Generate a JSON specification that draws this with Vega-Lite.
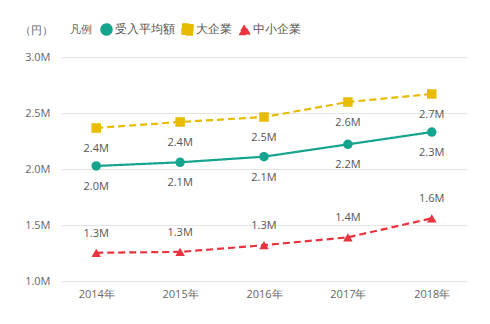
{
  "$schema": "https://vega.github.io/schema/vega-lite/v6.json",
  "width": 406,
  "height": 224,
  "autosize": {"type": "none"},
  "padding": {"left": 61, "top": 57, "right": 23, "bottom": 43},
  "background": "white",
  "config": {
    "view": {"stroke": null},
    "font": "Open Sans",
    "axis": {"labelColor": "#666666", "labelFontSize": 11, "titleColor": "#666666"}
  },
  "data": {
    "values": [
      {"year": "2014年", "series": "受入平均額", "value": 2027000},
      {"year": "2015年", "series": "受入平均額", "value": 2060000},
      {"year": "2016年", "series": "受入平均額", "value": 2110000},
      {"year": "2017年", "series": "受入平均額", "value": 2220000},
      {"year": "2018年", "series": "受入平均額", "value": 2330000},
      {"year": "2014年", "series": "大企業", "value": 2366000},
      {"year": "2015年", "series": "大企業", "value": 2420000},
      {"year": "2016年", "series": "大企業", "value": 2464000},
      {"year": "2017年", "series": "大企業", "value": 2598000},
      {"year": "2018年", "series": "大企業", "value": 2670000},
      {"year": "2014年", "series": "中小企業", "value": 1252000},
      {"year": "2015年", "series": "中小企業", "value": 1260000},
      {"year": "2016年", "series": "中小企業", "value": 1320000},
      {"year": "2017年", "series": "中小企業", "value": 1390000},
      {"year": "2018年", "series": "中小企業", "value": 1560000}
    ]
  },
  "encoding": {
    "x": {
      "field": "year", "type": "ordinal",
      "scale": {"type": "point", "padding": 0.42},
      "axis": {"title": null, "labelAngle": 0, "domain": false, "ticks": false, "labelPadding": 7}
    },
    "y": {
      "field": "value", "type": "quantitative",
      "scale": {"domain": [1000000, 3000000], "nice": false, "zero": false},
      "axis": {
        "values": [1000000, 1500000, 2000000, 2500000, 3000000],
        "labelExpr": "format(datum.value / 1000000, '.1f') + 'M'",
        "domain": false, "ticks": false, "labelPadding": 11,
        "gridColor": "#e4e4e4",
        "title": "（円）", "titleAngle": 0, "titleFontWeight": "normal", "titleFontSize": 11,
        "titleX": -25, "titleY": -27, "titleAlign": "center", "titleBaseline": "middle"
      }
    },
    "color": {
      "field": "series", "type": "nominal",
      "sort": ["受入平均額", "大企業", "中小企業"],
      "scale": {"domain": ["受入平均額", "大企業", "中小企業"], "range": ["#15a48e", "#e6bb00", "#e8343f"]},
      "legend": {
        "title": "凡例", "orient": "none", "legendX": 9, "legendY": -34,
        "direction": "horizontal", "titleOrient": "left", "titleFontWeight": "normal",
        "titleColor": "#666666", "titleFontSize": 11, "labelFontSize": 11.5, "labelColor": "#555555",
        "symbolSize": 120, "symbolOpacity": 1, "columnPadding": 4, "labelOffset": 2, "titlePadding": 8
      }
    }
  },
  "layer": [
    {
      "mark": {"type": "line", "strokeWidth": 2.2},
      "encoding": {
        "strokeDash": {
          "field": "series", "type": "nominal",
          "scale": {"domain": ["受入平均額", "大企業", "中小企業"], "range": [[1, 0], [7, 4], [7, 4]]},
          "legend": null
        }
      }
    },
    {
      "mark": {"type": "point", "filled": true, "opacity": 1, "size": 90},
      "encoding": {
        "shape": {
          "field": "series", "type": "nominal",
          "scale": {"domain": ["受入平均額", "大企業", "中小企業"], "range": ["circle", "square", "triangle-up"]}
        }
      }
    },
    {
      "transform": [{"filter": "datum.series != '中小企業'"}],
      "mark": {"type": "text", "dy": 21, "fontSize": 11, "color": "#555555"},
      "encoding": {
        "text": {"field": "value", "type": "quantitative", "format": ".2s"},
        "color": {"value": "#555555"}
      }
    },
    {
      "transform": [{"filter": "datum.series == '中小企業'"}],
      "mark": {"type": "text", "dy": -19, "fontSize": 11, "color": "#555555"},
      "encoding": {
        "text": {"field": "value", "type": "quantitative", "format": ".2s"},
        "color": {"value": "#555555"}
      }
    }
  ]
}
